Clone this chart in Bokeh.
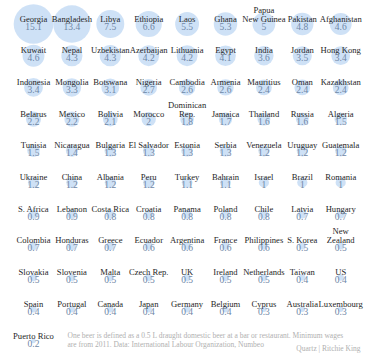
import math
from bokeh.plotting import figure
from bokeh.models import ColumnDataSource, Range1d, Label
from bokeh.embed import file_html
from bokeh.resources import INLINE
from bokeh.core.properties import value

countries = [
    "Georgia", "Bangladesh", "Libya", "Ethiopia", "Laos", "Ghana", "Papua\nNew Guinea", "Pakistan", "Afghanistan",
    "Kuwait", "Nepal", "Uzbekistan", "Azerbaijan", "Lithuania", "Egypt", "India", "Jordan", "Hong Kong",
    "Indonesia", "Mongolia", "Botswana", "Nigeria", "Cambodia", "Armenia", "Mauritius", "Oman", "Kazakhstan",
    "Belarus", "Mexico", "Bolivia", "Morocco", "Dominican\nRep.", "Jamaica", "Thailand", "Russia", "Algeria",
    "Tunisia", "Nicaragua", "Bulgaria", "El Salvador", "Estonia", "Serbia", "Venezuela", "Uruguay", "Guatemala",
    "Ukraine", "China", "Albania", "Peru", "Turkey", "Bahrain", "Israel", "Brazil", "Romania",
    "S. Africa", "Lebanon", "Costa Rica", "Croatia", "Panama", "Poland", "Chile", "Latvia", "Hungary",
    "Colombia", "Honduras", "Greece", "Ecuador", "Argentina", "France", "Philippines", "S. Korea", "New\nZealand",
    "Slovakia", "Slovenia", "Malta", "Czech Rep.", "UK", "Ireland", "Netherlands", "Taiwan", "US",
    "Spain", "Portugal", "Canada", "Japan", "Germany", "Belgium", "Cyprus", "Australia", "Luxembourg",
    "Puerto Rico",
]
beers = [
    15.1, 13.4, 7.5, 6.6, 5.5, 5.3, 5.0, 4.8, 4.6,
    4.6, 4.3, 4.3, 4.2, 4.2, 4.1, 3.6, 3.5, 3.4,
    3.4, 3.3, 3.1, 2.7, 2.6, 2.6, 2.4, 2.4, 2.4,
    2.2, 2.2, 2.1, 2.0, 1.8, 1.7, 1.6, 1.6, 1.5,
    1.5, 1.4, 1.3, 1.3, 1.3, 1.3, 1.2, 1.2, 1.2,
    1.2, 1.2, 1.2, 1.2, 1.1, 1.1, 1.0, 1.0, 1.0,
    0.9, 0.9, 0.8, 0.8, 0.8, 0.8, 0.8, 0.7, 0.7,
    0.7, 0.7, 0.7, 0.6, 0.6, 0.6, 0.6, 0.5, 0.5,
    0.5, 0.5, 0.5, 0.5, 0.5, 0.5, 0.5, 0.4, 0.4,
    0.4, 0.4, 0.4, 0.4, 0.4, 0.4, 0.3, 0.3, 0.3,
    0.2,
]
note_lines = [
    "One beer is defined as a 0.5 L draught domestic beer at a bar or restaurant. Minimum wages",
    "are from 2011. Data: International Labour Organization, Numbeo",
]
credit = "Quartz | Ritchie King"

NCOL = 9
W, H = 382, 354
cols = [i % NCOL for i in range(len(countries))]
rows = [i // NCOL for i in range(len(countries))]
sizes = [2 * 5.1 * math.sqrt(v) for v in beers]
vals = [f"{v:g}" for v in beers]
line_top = [n.split("\n")[0] if "\n" in n else "" for n in countries]
line_bot = [n.split("\n")[-1] for n in countries]

src = ColumnDataSource(dict(col=cols, row=rows, size=sizes, top=line_top,
                            bot=line_bot, val=vals))

COLW, ROWH = 38.4, 31.7
X0, Y0 = 33, 23.5
p = figure(width=W, height=H, output_backend="svg", toolbar_location=None,
           x_range=Range1d(-X0 / COLW, (W - X0) / COLW),
           y_range=Range1d((H - Y0) / ROWH, -Y0 / ROWH),
           min_border=0, outline_line_color=None)
p.axis.visible = False
p.grid.visible = False
p.background_fill_color = "white"
p.border_fill_color = "white"

p.scatter("col", "row", size="size", source=src, fill_color="#c5dcf5",
          fill_alpha=0.85, line_color=None)

font = value("Liberation Serif")
p.text("col", "row", text="bot", source=src, text_align="center",
       text_baseline="alphabetic", y_offset=-5.5, text_font=font,
       text_font_size="8.6px", text_color="#262626")
p.text("col", "row", text="top", source=src, text_align="center",
       text_baseline="alphabetic", y_offset=-14.5, text_font=font,
       text_font_size="8.6px", text_color="#262626")
p.text("col", "row", text="val", source=src, text_align="center",
       text_baseline="middle", y_offset=2, text_font=font,
       text_font_size="9.5px", text_color="#6f87a6")

for i, t in enumerate(note_lines):
    p.add_layout(Label(x=67, y=19 - 9 * i, x_units="screen", y_units="screen", text=t,
                       text_font="Liberation Serif", text_font_size="7.5px",
                       text_color="#b0b0b0", text_baseline="middle"))
p.add_layout(Label(x=360, y=6, x_units="screen", y_units="screen", text=credit,
                   text_font="Liberation Serif", text_font_size="7.5px",
                   text_color="#b0b0b0", text_baseline="middle", text_align="right"))

open("out.html", "w").write(file_html(p, INLINE))
